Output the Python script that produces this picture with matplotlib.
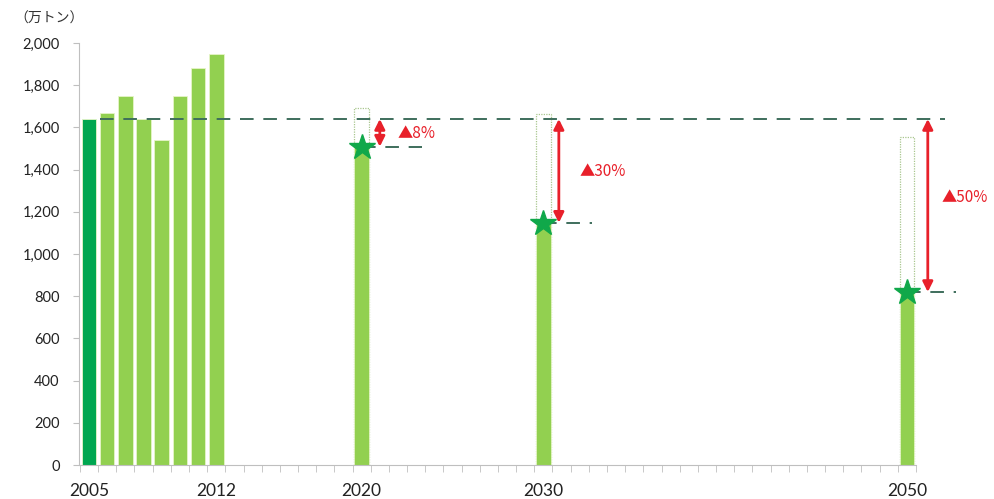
import matplotlib
matplotlib.use("Agg")
import matplotlib.pyplot as plt
from matplotlib.ticker import FuncFormatter, FixedLocator

plt.rcParams['font.family'] = ['Lato', 'Noto Sans CJK JP', 'DejaVu Sans']

# Actual emissions (万トン)
hist_years = [2005, 2006, 2007, 2008, 2009, 2010, 2011, 2012]
hist_values = [1640, 1670, 1750, 1640, 1540, 1750, 1880, 1950]

# Reduction targets relative to the 2005 level
base_year = 2005
base_value = 1640
target_years = [2020, 2030, 2050]
target_cuts = [8, 30, 50]            # percent reduction
target_labels = ['▲8%', '▲30%', '▲50%']
bau_values = [1690, 1665, 1555]       # projected level without measures

xtick_years = [2005, 2012, 2020, 2030, 2050]
yticks = [0, 200, 400, 600, 800, 1000, 1200, 1400, 1600, 1800, 2000]
unit_label = '（万トン）'

target_values = [base_value * (1 - c / 100) for c in target_cuts]

DARK_GREEN = '#00a650'
LIGHT_GREEN = '#92d050'
STAR_GREEN = '#10a84a'
RED = '#e8202a'
DASH = '#3e6e5c'
GRID_GRAY = '#bfbfbf'

fig = plt.figure(figsize=(9.94, 4.99), dpi=100)
ax = fig.add_axes([0.0795, 0.068, 0.906, 0.8458])

bar_w = 0.8
colors = [DARK_GREEN if y == base_year else LIGHT_GREEN for y in hist_years]
ax.bar(hist_years, hist_values, width=bar_w, color=colors,
       edgecolor='#e6f5c8', linewidth=0.6, zorder=2)

# projected (BAU) outline bars
ax.bar(target_years, bau_values, width=bar_w, fill=False,
       edgecolor='#a9c78f', linewidth=0.9, linestyle=(0, (1, 1)), zorder=1)
# target bars
ax.bar(target_years, target_values, width=bar_w, color=LIGHT_GREEN,
       edgecolor='#e6f5c8', linewidth=0.6, zorder=2)

# baseline level
ax.plot([2005.6, 2052.1], [base_value, base_value], color=DASH, lw=1.4,
        dashes=(7, 5), zorder=3)

arrow_dx = [1.0, 0.85, 1.15]
label_dx = [2.0, 2.0, 1.9]
label_y = [1573, 1390, 1270]
dash_end = [2023.3, 2032.7, 2052.7]
for yr, val, dx, ldx, ly, de, lab in zip(target_years, target_values, arrow_dx,
                                         label_dx, label_y, dash_end, target_labels):
    ax.plot([yr, de], [val, val], color=DASH, lw=1.4, dashes=(7, 5), zorder=3)
    ax.annotate('', xy=(yr + dx, val), xytext=(yr + dx, base_value),
                arrowprops=dict(arrowstyle='<|-|>', color=RED, lw=2.0,
                                mutation_scale=15, shrinkA=0, shrinkB=0),
                zorder=5)
    ax.text(yr + ldx, ly, lab, color=RED, fontsize=11, va='center', ha='left',
            family=['Noto Sans CJK JP', 'DejaVu Sans'])
    ax.plot([yr], [val], marker='*', ms=19, color=STAR_GREEN,
            markeredgecolor=STAR_GREEN, zorder=6)

ax.set_xlim(2004.45, 2054.0)
ax.set_ylim(0, 2000)

for s in ['top', 'right']:
    ax.spines[s].set_visible(False)
ax.spines['left'].set_color(GRID_GRAY)
ax.spines['bottom'].set_color(GRID_GRAY)
ax.spines['bottom'].set_bounds(2004.5, 2050.5)

ax.set_yticks(yticks)
ax.yaxis.set_major_formatter(FuncFormatter(lambda v, p: f'{int(v):,}'))
ax.tick_params(axis='y', length=4, color=GRID_GRAY, labelsize=10.5,
               labelcolor='#222222', pad=10)

ax.set_xticks(xtick_years)
ax.set_xticklabels([str(y) for y in xtick_years])
ax.xaxis.set_minor_locator(FixedLocator([y + 0.5 for y in range(2004, 2051)]))
ax.tick_params(axis='x', which='major', length=0, labelsize=12.5,
               labelcolor='#222222', pad=13)
ax.tick_params(axis='x', which='minor', length=5, color=GRID_GRAY)

fig.text(0.014, 0.962, unit_label, fontsize=10, color='#333333',
         family=['Noto Sans CJK JP', 'DejaVu Sans'], va='center', ha='left')

fig.savefig('out.png', dpi=100)
